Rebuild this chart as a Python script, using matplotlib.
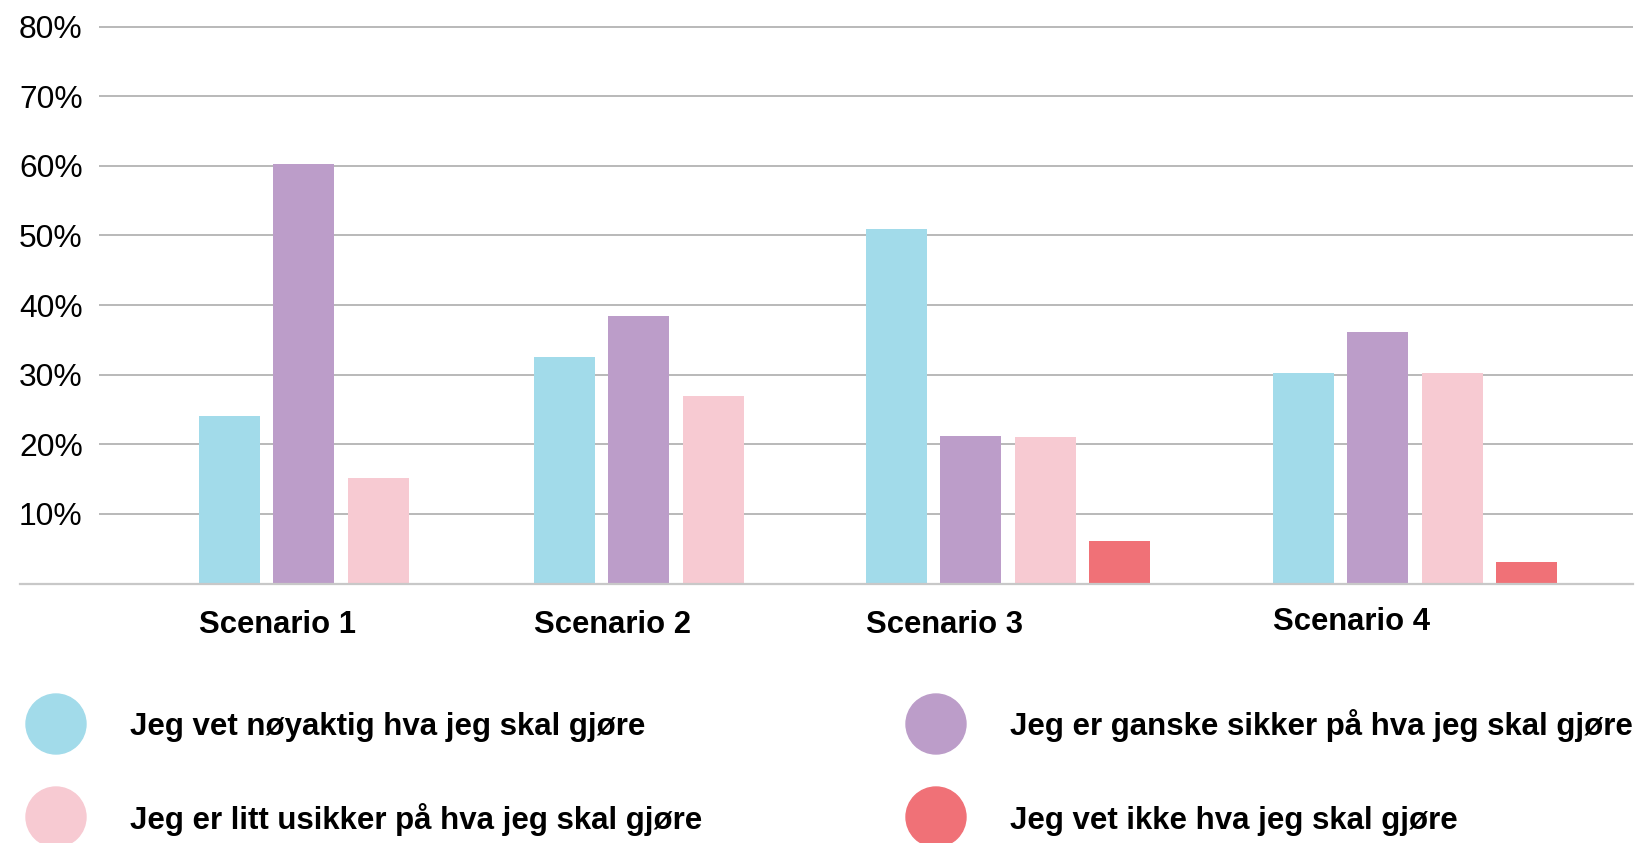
import matplotlib
matplotlib.use("Agg")
import matplotlib.pyplot as plt
import matplotlib.transforms as mtransforms
from matplotlib.patches import Ellipse

# data
scenarios = ["Scenario 1", "Scenario 2", "Scenario 3", "Scenario 4"]
series_names = [
    "Jeg vet nøyaktig hva jeg skal gjøre",
    "Jeg er ganske sikker på hva jeg skal gjøre",
    "Jeg er litt usikker på hva jeg skal gjøre",
    "Jeg vet ikke hva jeg skal gjøre",
]
vet_noyaktig = [24, 32.5, 51, 30.2]
ganske_sikker = [60.3, 38.5, 21.2, 36.1]
litt_usikker = [15.1, 27, 21, 30.2]
vet_ikke = [0, 0, 6.1, 3.1]
y_ticks = [10, 20, 30, 40, 50, 60, 70, 80]

series = [vet_noyaktig, ganske_sikker, litt_usikker, vet_ikke]
colors = ["#a2dbea", "#bc9dc9", "#f7cad2", "#f07177"]

# layout (pixels in a 1640x843 canvas)
W, H = 1640, 843
group_start = [1.346, 5.855, 10.323, 15.80]   # slot units, first bar left edge
label_base = [633, 633, 633, 630]              # baseline of scenario labels (px)
bar_w = 0.821

fig = plt.figure(figsize=(W / 100, H / 100), dpi=100)
ax_left, ax_right = 99, 1633
ax_bottom_px, px_per_pct = 583.5, 6.96
ymax = 82
ax_top_px = ax_bottom_px - ymax * px_per_pct
ax = fig.add_axes([ax_left / W, 1 - ax_bottom_px / H,
                   (ax_right - ax_left) / W, (ax_bottom_px - ax_top_px) / H])

for i, vals in enumerate(series):
    xs = [g + i for g in group_start]
    ax.bar(xs, vals, width=bar_w, align="edge", color=colors[i], zorder=2)

ax.set_xlim(0, (ax_right - ax_left) / 74.3)
ax.set_ylim(0, ymax)
for s in ax.spines.values():
    s.set_visible(False)
ax.set_xticks([])
ax.set_yticks(y_ticks)
ax.set_yticklabels([f"{t}%" for t in y_ticks], fontsize=22.9,
                   family="Liberation Sans", ha="left")
ax.tick_params(axis="y", length=0, pad=(ax_left - 19) * 0.72)
ax.yaxis.grid(True, color="#b3b3b3", linewidth=1.3)
ax.set_axisbelow(True)

# baseline extends further left than the grid
ax.axhline(0, xmin=(20 - ax_left) / (ax_right - ax_left), xmax=1,
           color="#c8c8c8", linewidth=1.6, clip_on=False, zorder=3)

trans = mtransforms.blended_transform_factory(ax.transData, fig.transFigure)
for g, name, yb in zip(group_start, scenarios, label_base):
    ax.text(g, 1 - yb / H, name, transform=trans, ha="left", va="baseline",
            fontsize=22.3, fontweight="bold", family="Liberation Sans")

# legend
leg_pos = [(56, 724, 130, 735), (936, 724, 1010, 735),
           (56, 817, 130, 829.5), (936, 817, 1010, 829.5)]
leg_order = [0, 1, 2, 3]
for (cx, cy, tx, ty), k in zip(leg_pos, leg_order):
    fig.add_artist(Ellipse((cx / W, 1 - cy / H), 60 / W, 60 / H,
                           transform=fig.transFigure, color=colors[k]))
    fig.text(tx / W, 1 - ty / H, series_names[k], ha="left", va="baseline",
             fontsize=22.5, fontweight="bold", family="Liberation Sans")

fig.savefig("out.png", dpi=100)
